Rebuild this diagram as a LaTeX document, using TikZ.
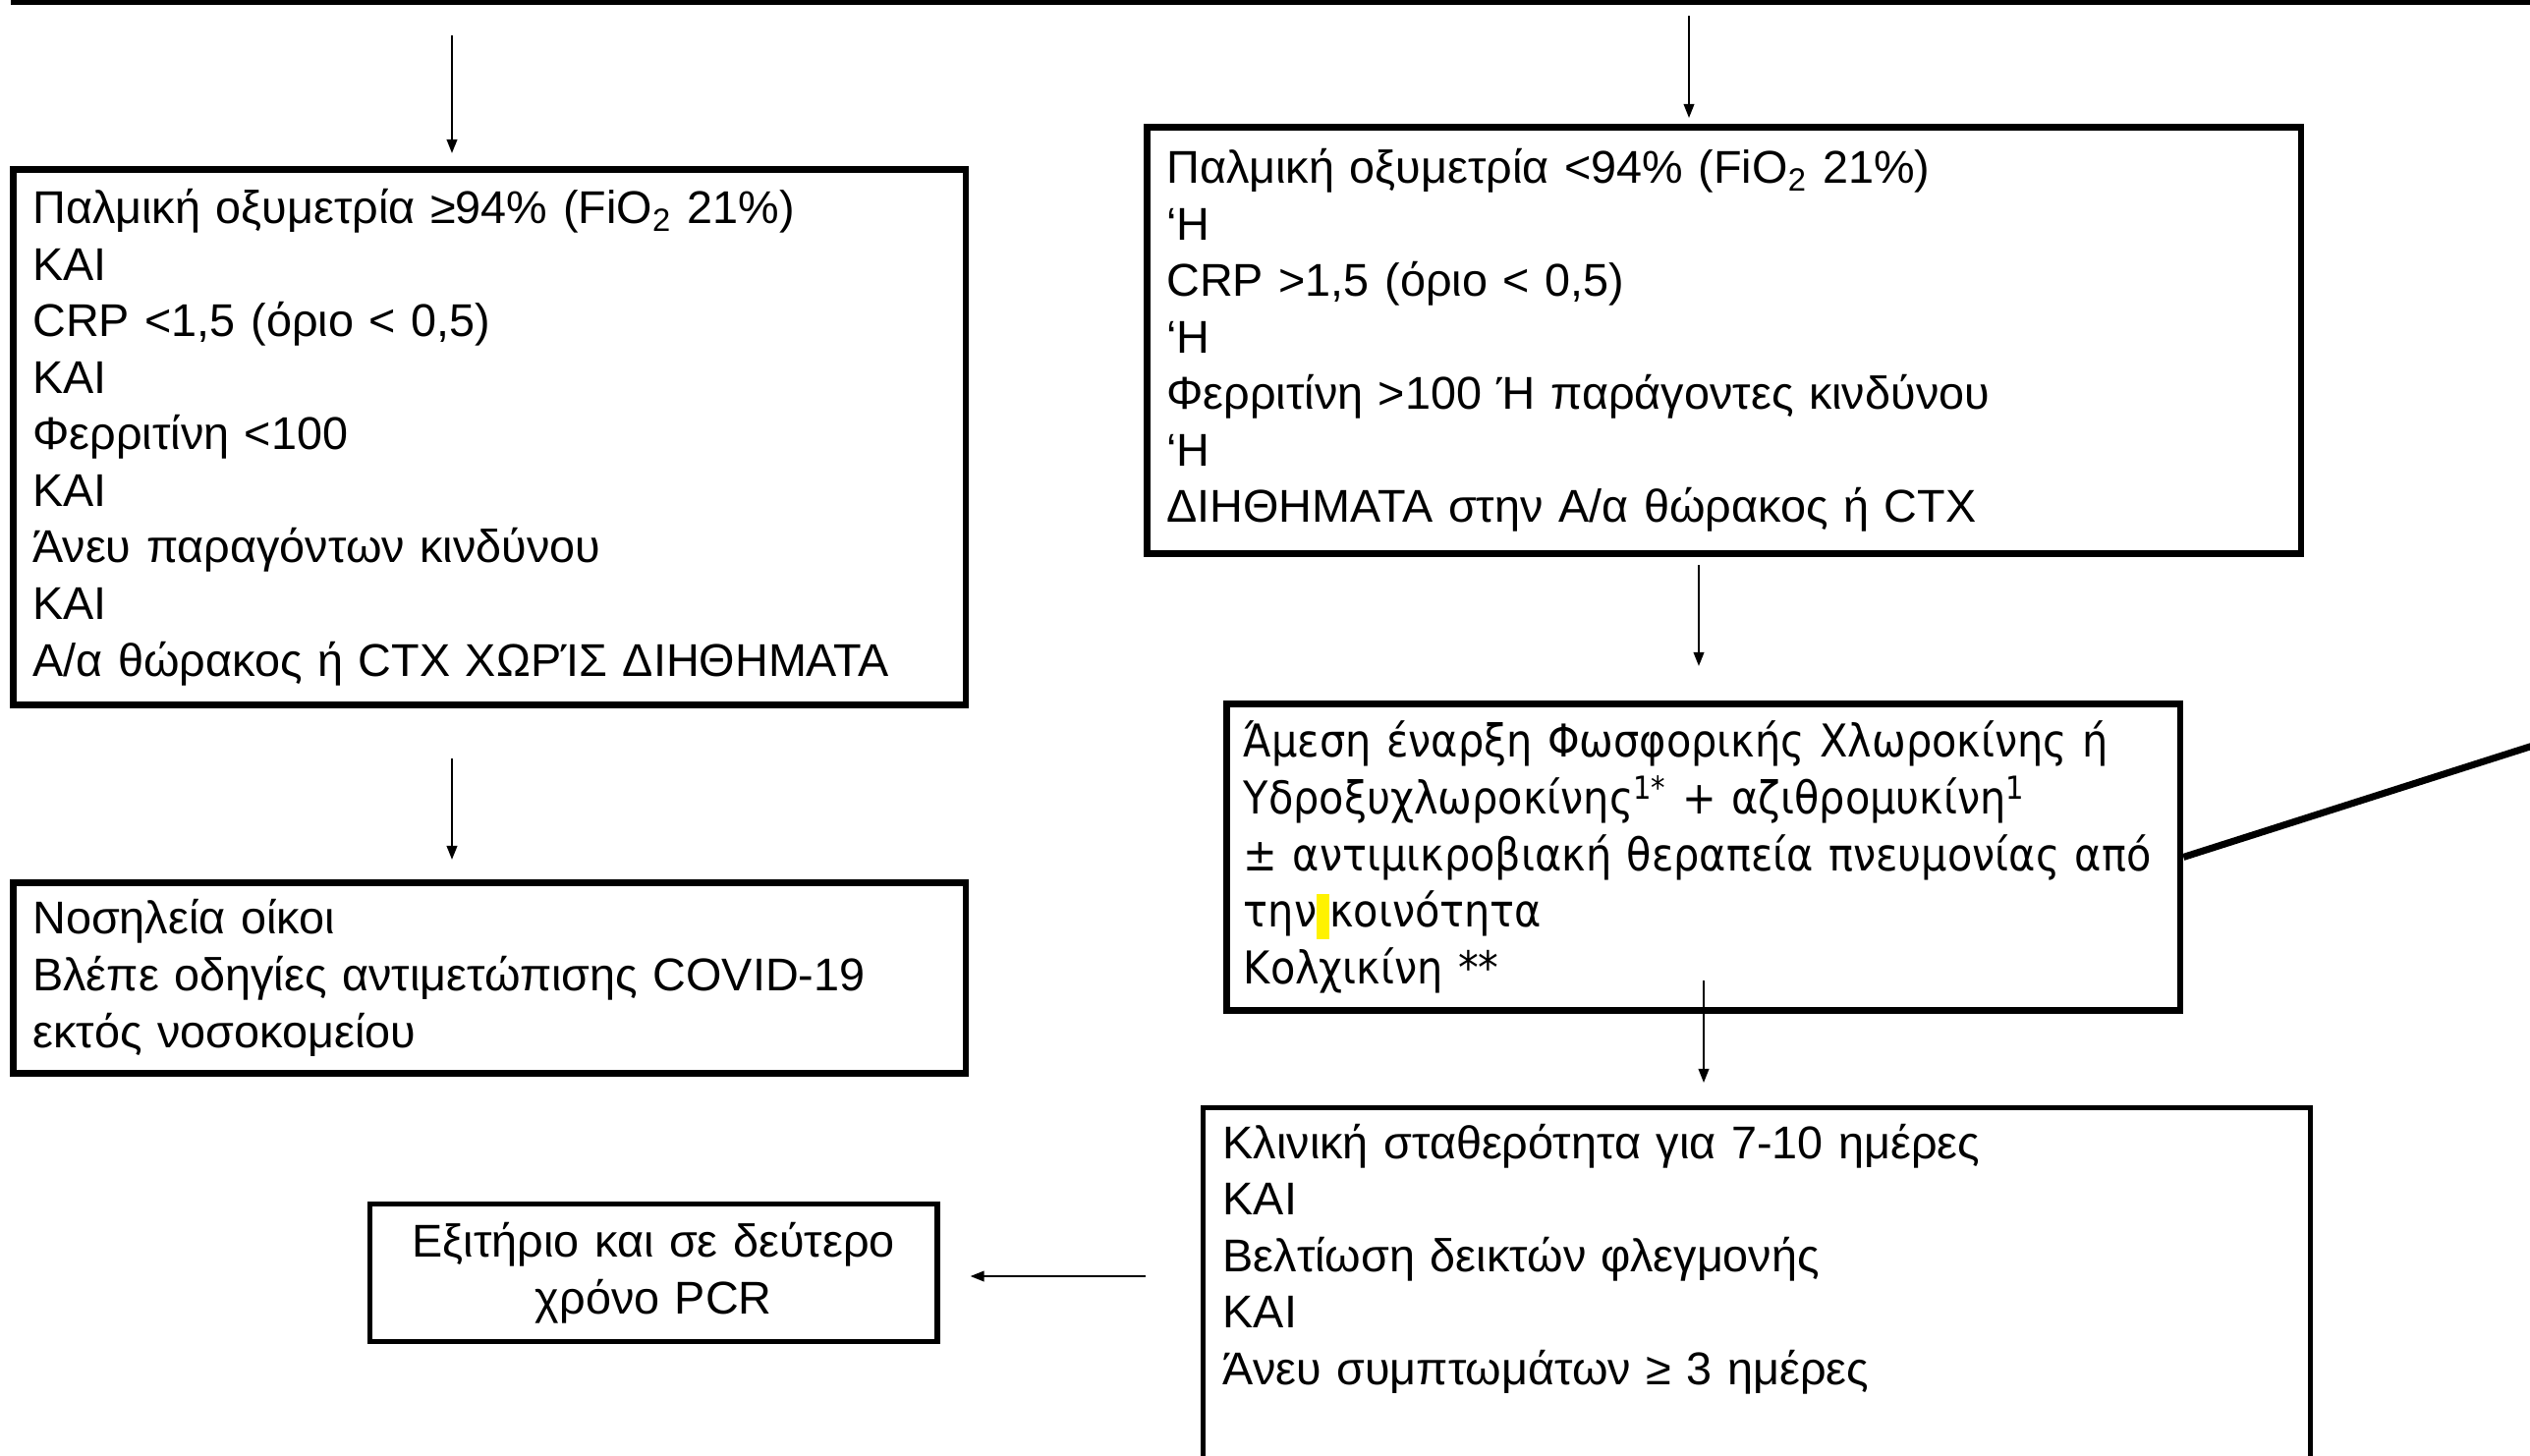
\documentclass[tikz,border=0pt]{standalone}
\usepackage{fontspec}
\setmainfont{Liberation Sans}
\newfontfamily\treatfont{DejaVu Sans}[FakeStretch=0.9]
\usetikzlibrary{arrows.meta}

\begin{document}
\begin{tikzpicture}
	[x=0.01cm, y=-0.01cm,
	box/.style = {draw, line width=1.9pt, rectangle, anchor=north west, inner sep=0pt,
		align=left, font=\fontsize{13.3}{16.37}\selectfont},
	thinbox/.style = {box, line width=1.5pt},
	arr/.style = {-{Triangle[length=4pt, width=3pt]}, line width=0.6pt}]
\useasboundingbox (0,0) rectangle (2575,1481);
\node[box, line width=1.7pt, minimum width=25.9cm, minimum height=3cm, anchor=south west] (top) at (11,4.5) {};
\node[box, minimum width=9.69cm, minimum height=5.45cm, text width=9.29cm] (good) at (10,169)
	{Παλμική οξυμετρία ≥94\% (FiO\textsubscript{2} 21\%)\\ ΚΑΙ\\ CRP <1,5 (όριο < 0,5)\\ ΚΑΙ\\
	Φερριτίνη <100\\ ΚΑΙ\\ Άνευ παραγόντων κινδύνου\\ ΚΑΙ\\ Α/α θώρακος ή CTX ΧΩΡΊΣ ΔΙΗΘΗΜΑΤΑ};
\node[box, minimum width=9.69cm, minimum height=1.94cm, text width=9.29cm] (home) at (10,895)
	{Νοσηλεία οίκοι\\ Βλέπε οδηγίες αντιμετώπισης COVID-19\\ εκτός νοσοκομείου};
\node[box, minimum width=11.74cm, minimum height=4.34cm, text width=11.34cm] (bad) at (1164,126)
	{Παλμική οξυμετρία <94\% (FiO\textsubscript{2} 21\%)\\ ‘Η\\ CRP >1,5 (όριο < 0,5)\\ ‘Η\\
	Φερριτίνη >100 Ή παράγοντες κινδύνου\\ ‘Η\\ ΔΙΗΘΗΜΑΤΑ στην Α/α θώρακος ή CTX};
\node[box, minimum width=9.70cm, minimum height=3.12cm, text width=9.35cm,
	font=\fontsize{13.1}{16.37}\treatfont] (treat) at (1245,713)
	{Άμεση έναρξη Φωσφορικής Χλωροκίνης ή\\ Υδροξυχλωροκίνης\textsuperscript{1*} + αζιθρομυκίνη\textsuperscript{1}\\
	± αντιμικροβιακή θεραπεία πνευμονίας από\\
	την{\setlength{\fboxsep}{0pt}\colorbox{yellow}{\rule[-3.5pt]{0pt}{13pt}\hspace{3.7pt}}}κοινότητα\\ Κολχικίνη **};
\node[thinbox, minimum width=11.26cm, minimum height=4.3cm, text width=10.86cm] (stable) at (1222,1125)
	{Κλινική σταθερότητα για 7-10 ημέρες\\ ΚΑΙ\\ Βελτίωση δεικτών φλεγμονής\\ ΚΑΙ\\
	Άνευ συμπτωμάτων ≥ 3 ημέρες\\ \strut\\ \strut};
\node[thinbox, minimum width=5.77cm, minimum height=1.40cm, text width=5.37cm, align=center] (exit) at (374,1223)
	{Εξιτήριο και σε δεύτερο\\ χρόνο PCR};
\coordinate (a1) at (460,36);
\coordinate (a2) at (460,772);
\coordinate (a3) at (1719,16);
\coordinate (a4) at (1729,575);
\coordinate (a5) at (1734,998);
\coordinate (a6) at (1166,1299);
\coordinate (edge) at (2600,752);
\draw[arr, shorten >=0.13cm] (a1) -- (a1 |- good.north);
\draw[arr, shorten >=0.2cm] (a2) -- (a2 |- home.north);
\draw[arr, shorten >=0.06cm] (a3) -- (a3 |- bad.north);
\draw[arr, shorten >=0.35cm] (a4) -- (a4 |- treat.north);
\draw[arr, shorten >=0.23cm] (a5) -- (a5 |- stable.north);
\draw[arr, shorten >=0.31cm] (a6) -- (a6 -| exit.east);
\draw[line width=2pt] (treat.east) -- (edge);
\end{tikzpicture}
\end{document}
